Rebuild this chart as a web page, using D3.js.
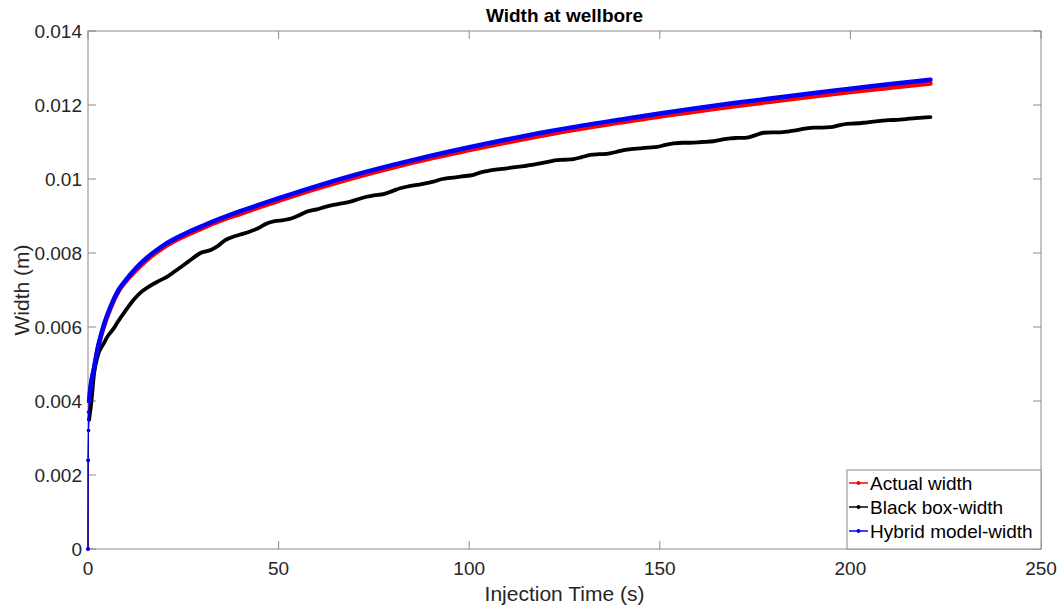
<!DOCTYPE html>
<html>
<head>
<meta charset="utf-8">
<script src="https://cdn.jsdelivr.net/npm/d3@7"></script>
<style>
  body { margin: 0; background: #fff; }
  svg { display: block; font-family: "Liberation Sans", Arial, sans-serif; }
</style>
</head>
<body>
<svg id="chart" width="1062" height="611"></svg>
<script>
// time samples (s) shared by the two smooth curves
const time = [0, 0.05, 0.15, 0.3, 0.7, 1.6, 2.5, 4, 6, 8, 10, 12.5, 15, 17.5, 20, 25, 30, 35,
  40, 45, 50, 60, 70, 80, 90, 100, 110, 120, 130, 140, 150, 160, 170, 180, 190, 200, 210, 221];

const actualWidth = [0, 0.0024, 0.0037, 0.0040, 0.00438, 0.00488, 0.00538, 0.00596, 0.00653, 0.00696,
  0.00724, 0.00752, 0.00777, 0.00798, 0.00816, 0.00844, 0.00867, 0.00888, 0.00906, 0.00924, 0.00941,
  0.00974, 0.01004, 0.01031, 0.01056, 0.01078, 0.01099, 0.01119, 0.01137, 0.01153, 0.01169, 0.01183,
  0.01197, 0.0121, 0.01223, 0.01235, 0.01246, 0.01258];

const hybridWidth = [0, 0.0024, 0.0037, 0.0040, 0.0044, 0.0049, 0.0054, 0.0060, 0.00657, 0.0070,
  0.00728, 0.00758, 0.00783, 0.00804, 0.00822, 0.0085, 0.00873, 0.00894, 0.00913, 0.00931, 0.00948,
  0.00981, 0.01011, 0.01038, 0.01063, 0.01086, 0.01107, 0.01127, 0.01145, 0.01161, 0.01177, 0.01192,
  0.01206, 0.01219, 0.01232, 0.01244, 0.01256, 0.01268];

// black box has its own samples, it wiggles
const blackTime = [0, 0.05, 0.15, 0.3, 0.9, 1.6, 2.5, 4.2, 5.1, 6.8, 7.7, 9.9, 12.1, 14, 16.4, 18.5,
  20.8, 23, 25.2, 27.5, 29.5, 32.2, 33.8, 36, 38.1, 40, 42.5, 44.5, 46.9, 49, 51.3, 53.5, 55.6, 57.5,
  60, 62, 64.4, 66.5, 68.8, 71, 73.1, 75, 77.5, 80, 81.9, 84, 86.3, 88.5, 90.6, 93, 95, 98, 101.1,
  103, 105.5, 107.5, 109.9, 112, 114.3, 116.5, 118.6, 121, 123, 125, 127.4, 129.5, 131.8, 134, 136.1,
  138.5, 140.5, 142.5, 144.9, 147, 149.3, 151.5, 153.6, 156, 158, 161, 164.1, 166, 168.5, 170.5,
  172.9, 175, 177.2, 179.5, 181.6, 184, 186, 188, 190.4, 192.5, 194.8, 197, 199.1, 201, 203.5, 206,
  207.9, 210, 212.3, 214.5, 216.6, 219, 221];

const blackWidth = [0, 0.0024, 0.0032, 0.0035, 0.0040, 0.00475, 0.0052, 0.00557, 0.00574, 0.00597,
  0.00612, 0.00645, 0.00675, 0.00695, 0.00712, 0.00724, 0.00736, 0.00752, 0.00768, 0.00786, 0.008,
  0.00808, 0.00817, 0.00835, 0.00844, 0.0085, 0.00858, 0.00866, 0.0088, 0.00886, 0.00889, 0.00894,
  0.00903, 0.00912, 0.00918, 0.00924, 0.0093, 0.00934, 0.00939, 0.00946, 0.00952, 0.00956, 0.00959,
  0.00968, 0.00975, 0.0098, 0.00984, 0.00988, 0.00993, 0.01, 0.01003, 0.01007, 0.01011, 0.01018,
  0.01023, 0.01026, 0.01029, 0.01032, 0.01035, 0.01038, 0.01042, 0.01047, 0.01051, 0.01052, 0.01054,
  0.01059, 0.01065, 0.01067, 0.01068, 0.01073, 0.01078, 0.01081, 0.01083, 0.01085, 0.01087, 0.01092,
  0.01096, 0.01098, 0.01098, 0.011, 0.01102, 0.01106, 0.0111, 0.01111, 0.01112, 0.01118, 0.01125,
  0.01126, 0.01126, 0.01129, 0.01132, 0.01136, 0.01139, 0.01139, 0.0114, 0.01145, 0.01149, 0.0115,
  0.01152, 0.01155, 0.01157, 0.01159, 0.0116, 0.01162, 0.01164, 0.01166, 0.01167];

const xTicks = [0, 50, 100, 150, 200, 250];
const yTicks = [0, 0.002, 0.004, 0.006, 0.008, 0.01, 0.012, 0.014];

const series = [
  { name: 'Actual width', color: '#ff0000', t: time, w: actualWidth, thick: 4.5 },
  { name: 'Black box-width', color: '#000000', t: blackTime, w: blackWidth, thick: 3.8 },
  { name: 'Hybrid model-width', color: '#0000ff', t: time, w: hybridWidth, thick: 4.5 }
];

const svg = d3.select('#chart');
const pLeft = 88, pRight = 1041, pTop = 31, pBottom = 549;
const axisColor = '#8a8a8a', textColor = '#262626';

const x = d3.scaleLinear().domain([0, 250]).range([pLeft, pRight]);
const y = d3.scaleLinear().domain([0, 0.014]).range([pBottom, pTop]);

// axes box
svg.append('rect')
  .attr('x', pLeft).attr('y', pTop)
  .attr('width', pRight - pLeft).attr('height', pBottom - pTop)
  .attr('fill', 'none').attr('stroke', axisColor).attr('stroke-width', 1);

const fmt = v => String(+v.toFixed(3));

// ticks on all four sides, pointing in
const tickLen = 8;
const g = svg.append('g').attr('stroke', axisColor).attr('stroke-width', 1);
xTicks.forEach(v => {
  g.append('line').attr('x1', x(v)).attr('x2', x(v)).attr('y1', pBottom).attr('y2', pBottom - tickLen);
  g.append('line').attr('x1', x(v)).attr('x2', x(v)).attr('y1', pTop).attr('y2', pTop + tickLen);
});
yTicks.forEach(v => {
  g.append('line').attr('x1', pLeft).attr('x2', pLeft + tickLen).attr('y1', y(v)).attr('y2', y(v));
  g.append('line').attr('x1', pRight).attr('x2', pRight - tickLen).attr('y1', y(v)).attr('y2', y(v));
});

svg.append('g').selectAll('text').data(xTicks).join('text')
  .attr('x', d => x(d)).attr('y', 575)
  .attr('text-anchor', 'middle').attr('font-size', 19).attr('fill', textColor)
  .text(d => fmt(d));

svg.append('g').selectAll('text').data(yTicks).join('text')
  .attr('x', pLeft - 6).attr('y', d => y(d)).attr('dy', '0.35em')
  .attr('text-anchor', 'end').attr('font-size', 19).attr('fill', textColor)
  .text(d => fmt(d));

// labels + title
svg.append('text').attr('x', (pLeft + pRight) / 2).attr('y', 601)
  .attr('text-anchor', 'middle').attr('font-size', 21).attr('fill', textColor)
  .text('Injection Time (s)');

svg.append('text').attr('transform', `translate(29,${(pTop + pBottom) / 2}) rotate(-90)`)
  .attr('text-anchor', 'middle').attr('font-size', 21).attr('fill', textColor)
  .text('Width (m)');

svg.append('text').attr('x', (pLeft + pRight) / 2).attr('y', 22)
  .attr('text-anchor', 'middle').attr('font-size', 19).attr('font-weight', 'bold').attr('fill', '#000')
  .text('Width at wellbore');

// curves
const plot = svg.append('g');
series.forEach(s => {
  const pts = s.t.map((t, i) => [t, s.w[i]]);
  const line = d3.line().x(d => x(d[0])).y(d => y(d[1]));
  // thin line through every sample
  plot.append('path').datum(pts)
    .attr('d', line).attr('fill', 'none')
    .attr('stroke', s.color).attr('stroke-width', 1);
  // dense markers in the original make the trace look thick
  plot.append('path').datum(pts.filter(d => d[0] >= 0.3))
    .attr('d', line.curve(d3.curveMonotoneX)).attr('fill', 'none')
    .attr('stroke', s.color).attr('stroke-width', s.thick)
    .attr('stroke-linejoin', 'round').attr('stroke-linecap', 'round');
  plot.append('g').selectAll('circle').data(pts.filter(d => d[0] < 3)).join('circle')
    .attr('cx', d => x(d[0])).attr('cy', d => y(d[1])).attr('r', 1.8)
    .attr('fill', s.color);
});

// legend
const leg = svg.append('g');
leg.append('rect').attr('x', 847).attr('y', 470).attr('width', 194).attr('height', 79)
  .attr('fill', '#fff').attr('stroke', axisColor).attr('stroke-width', 1);
series.forEach((s, i) => {
  const cy = 483 + i * 24;
  leg.append('line').attr('x1', 849).attr('x2', 868).attr('y1', cy).attr('y2', cy)
    .attr('stroke', s.color).attr('stroke-width', 1.5);
  leg.append('circle').attr('cx', 858.5).attr('cy', cy).attr('r', 2).attr('fill', s.color);
  leg.append('text').attr('x', 870).attr('y', cy).attr('dy', '0.35em')
    .attr('font-size', 19).attr('fill', '#000').text(s.name);
});
</script>
</body>
</html>
